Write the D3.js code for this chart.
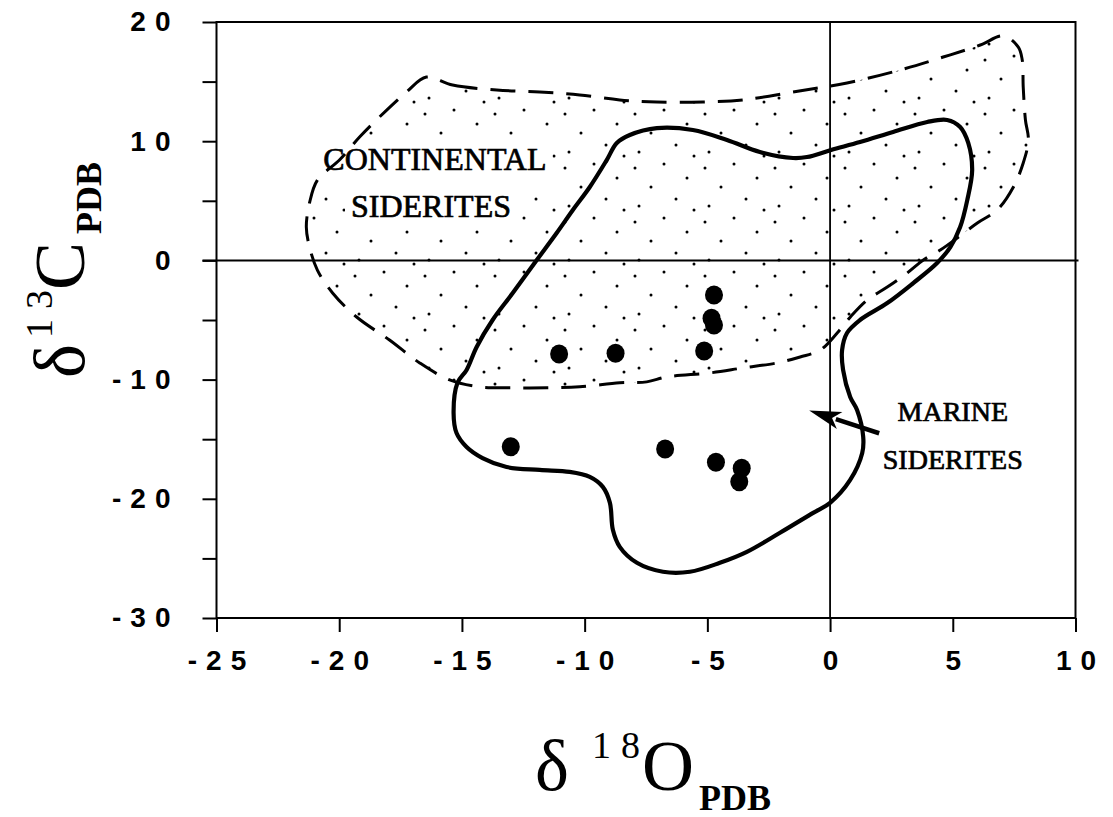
<!DOCTYPE html>
<html><head><meta charset="utf-8">
<script src="https://cdn.jsdelivr.net/npm/d3@7"></script>
<style>body{margin:0;background:#fff;} svg{display:block;}</style>
</head><body>
<svg id="chart" width="1113" height="817"></svg>
<script>
// ---------------- DATA ----------------
const xTicks = [-25, -20, -15, -10, -5, 0, 5, 10];
const xTickLabels = ["-25", "-20", "-15", "-10", "-5", "0", "5", "10"];
const yTicks = [-30, -25, -20, -15, -10, -5, 0, 5, 10, 15, 20];
const yTickLabels = ["-30", "", "-20", "", "-10", "", "0", "", "10", "", "20"];

// Continental siderites field (dashed outline), vertices in permil
const contD18O = [-16.45,-15.38,-13.58,-11.83,-10.20,-8.57,-7.06,-5.18,-3.55,-1.51,0.69,2.86,4.61,6.12,7.06,7.67,7.83,7.87,7.96,8.08,7.87,7.47,6.81,6.0,5.18,4.49,3.8,3.14,2.33,1.51,0.82,0.29,-0.4,-1.22,-2.16,-3.55,-4.9,-6.65,-7.47,-8.57,-10.2,-11.54,-12.93,-14.28,-15.5,-16.72,-17.95,-19.29,-20.27,-20.89,-21.21,-21.34,-21.21,-20.89,-19.99,-19.17,-18.36,-17.26];
const contD13C = [15.38,14.71,14.29,14.13,13.88,13.46,13.29,13.29,13.46,14.13,14.89,15.98,17.06,18.07,18.83,17.9,16.81,14.55,11.78,10.1,8.17,6.16,4.23,3.14,1.88,0.87,0.03,-1.06,-2.24,-3.33,-4.76,-6.09,-7.52,-8.1,-8.6,-9.02,-9.44,-9.77,-10.19,-10.27,-10.61,-10.69,-10.69,-10.61,-10.03,-8.6,-6.68,-4.75,-2.73,-0.81,1.12,2.80,4.82,6.74,8.42,10.35,12.03,14.12];

// Marine siderites field (solid outline)
const marD18O = [-7.06,-5.59,-4.2,-2.86,-1.51,-0.94,0.04,1.22,2.57,3.96,4.77,5.3,5.63,5.79,5.59,5.3,4.9,4.36,3.39,2.33,1.22,0.69,0.49,0.53,0.82,1.1,1.35,1.31,0.82,0.0,-0.69,-2.04,-3.39,-4.49,-5.71,-6.81,-7.87,-8.57,-8.85,-8.97,-9.26,-9.79,-10.61,-11.83,-13.18,-14.16,-14.81,-15.22,-15.34,-15.18,-14.81,-14.4,-13.75,-12.93,-11.95,-11.14,-10.48,-9.79,-9.1,-8.69,-8.16];
const marD13C = [11.1,10.94,10.1,9.09,8.59,8.67,9.26,9.93,10.77,11.61,11.78,11.19,9.85,7.58,5.06,2.80,1.12,-0.22,-1.9,-3.58,-5.0,-6.09,-7.52,-9.19,-11.46,-12.55,-14.8,-16.16,-18.42,-20.34,-21.18,-22.85,-24.45,-25.37,-26.12,-26.12,-25.37,-24.03,-22.6,-20.34,-19.0,-18.16,-17.74,-17.58,-17.33,-16.58,-15.65,-14.48,-12.8,-10.27,-9.19,-7.26,-5.0,-2.74,0.03,2.30,4.23,6.16,8.42,9.85,10.52];

// Sample siderites
const sampleD18O = [-11.04,-8.74,-5.13,-4.73,-4.83,-4.73,-13.01,-6.72,-4.65,-3.60,-3.70];
const sampleD13C = [-7.85,-7.79,-7.60,-2.90,-4.86,-5.42,-15.63,-15.82,-16.94,-17.44,-18.57];

// Field labels (text, anchor in permil)
const fieldLabels = ["CONTINENTAL", "SIDERITES", "MARINE", "SIDERITES"];
const fieldLabelD18O = [-16.10, -16.26, 5.0, 5.0];
const fieldLabelD13C = [7.58, 3.64, -13.5, -17.5];
// Arrow pointing at the marine field (tail -> tip, permil)
const arrowD18O = [2.0, -0.85];
const arrowD13C = [-14.5, -12.6];

// ---------------- DRAWING ----------------
const svg = d3.select("#chart");
const W = 1113, H = 817;
svg.append("rect").attr("width", W).attr("height", H).attr("fill", "#fff");

const x = d3.scaleLinear().domain([-25, 10]).range([216.5, 1075.5]);
const y = d3.scaleLinear().domain([-30, 20]).range([618, 22]);

const defs = svg.append("defs");
const pat = defs.append("pattern").attr("id", "stipple")
  .attr("patternUnits", "userSpaceOnUse").attr("width", 70).attr("height", 54);
[[5,6],[34,2],[57,16],[21,25],[46,37],[9,44],[64,48]].forEach(p => {
  pat.append("circle").attr("cx", p[0]).attr("cy", p[1]).attr("r", 1.5).attr("fill", "#000");
});

const line = d3.line().x(d => x(d[0])).y(d => y(d[1])).curve(d3.curveCatmullRomClosed.alpha(0.5));
const cont = d3.zip(contD18O, contD13C);
const mar = d3.zip(marD18O, marD13C);

// stipple fill of continental field
svg.append("path").attr("d", line(cont)).attr("fill", "url(#stipple)").attr("stroke", "none");

// labels group (continental label clears stipple)
const serif = "'Liberation Serif','Times New Roman',Times,serif";
const labSizes = ["32px", "32px", "28px", "28px"];
const labG = svg.append("g");
const labTexts = fieldLabels.map((t, i) => labG.append("text")
  .attr("x", x(fieldLabelD18O[i])).attr("y", y(fieldLabelD13C[i]))
  .attr("text-anchor", "middle")
  .style("font-family", serif).style("font-size", labSizes[i])
  .attr("fill", "#000").attr("stroke", "#000").attr("stroke-width", 0.7)
  .text(t));
// white backing behind continental label
[0, 1].forEach(i => {
  const b = labTexts[i].node().getBBox();
  labG.insert("rect", "text").attr("x", b.x - 6).attr("y", b.y - 4)
    .attr("width", b.width + 12).attr("height", b.height + 10).attr("fill", "#fff");
});

// dashed continental outline
svg.append("path").attr("d", line(cont)).attr("fill", "none")
  .attr("stroke", "#000").attr("stroke-width", 3)
  .attr("stroke-dasharray", "25,13").attr("stroke-linecap", "butt");

// zero lines
svg.append("line").attr("x1", x(-25) - 14).attr("x2", x(10) + 3)
  .attr("y1", y(0)).attr("y2", y(0)).attr("stroke", "#000").attr("stroke-width", 2);
svg.append("line").attr("x1", x(0)).attr("x2", x(0))
  .attr("y1", y(20)).attr("y2", y(-30)).attr("stroke", "#000").attr("stroke-width", 1.8);

// solid marine outline
svg.append("path").attr("d", line(mar)).attr("fill", "none")
  .attr("stroke", "#000").attr("stroke-width", 4.2).attr("stroke-linejoin", "round");

// sample points
svg.append("g").selectAll("ellipse").data(d3.zip(sampleD18O, sampleD13C)).join("ellipse")
  .attr("cx", d => x(d[0])).attr("cy", d => y(d[1])).attr("rx", 9).attr("ry", 9.5).attr("fill", "#000");

// arrow
(function () {
  const x1 = x(arrowD18O[0]), y1 = y(arrowD13C[0]), x2 = x(arrowD18O[1]), y2 = y(arrowD13C[1]);
  const a = Math.atan2(y2 - y1, x2 - x1);
  const L = 32, Wd = 9;
  const bx = x2 - L * Math.cos(a), by = y2 - L * Math.sin(a);
  svg.append("line").attr("x1", x1).attr("y1", y1).attr("x2", bx + 4 * Math.cos(a)).attr("y2", by + 4 * Math.sin(a))
    .attr("stroke", "#000").attr("stroke-width", 4.5);
  const pts = [[x2, y2],
    [bx + Wd * Math.sin(a), by - Wd * Math.cos(a)],
    [bx + 8 * Math.cos(a), by + 8 * Math.sin(a)],
    [bx - Wd * Math.sin(a), by + Wd * Math.cos(a)]];
  svg.append("polygon").attr("points", pts.map(p => p.join(",")).join(" ")).attr("fill", "#000");
})();

// frame
svg.append("rect").attr("x", x(-25)).attr("y", y(20)).attr("width", x(10) - x(-25)).attr("height", y(-30) - y(20))
  .attr("fill", "none").attr("stroke", "#000").attr("stroke-width", 2);

// axes
const sans = "'Liberation Sans',Arial,Helvetica,sans-serif";
const LS = 9;
const yAxis = d3.axisLeft(y).tickValues(yTicks).tickSize(14).tickPadding(23)
  .tickFormat((d, i) => yTickLabels[i]);
const gy = svg.append("g").attr("transform", `translate(${x(-25)},0)`).call(yAxis);
const xAxis = d3.axisBottom(x).tickValues(xTicks).tickSize(14).tickPadding(18)
  .tickFormat((d, i) => xTickLabels[i]);
const gx = svg.append("g").attr("transform", `translate(0,${y(-30)})`).call(xAxis);
[gx, gy].forEach(g => {
  g.select(".domain").remove();
  g.selectAll(".tick line").attr("stroke", "#000").attr("stroke-width", 2);
  g.selectAll(".tick text").attr("fill", "#000")
    .style("font-family", sans).style("font-size", "28px").style("font-weight", "bold")
    .style("letter-spacing", LS + "px");
});
gx.selectAll(".tick text").attr("dx", (LS / 2) + "px");

// axis titles
function title(g, sup, main, off, subDy) {
  const st = (t, s, w) => t.style("font-family", serif).style("font-size", s).style("font-weight", w || "normal").attr("fill", "#000");
  st(g.append("text").attr("x", 0).attr("y", 0).text("δ"), "72px");
  st(g.append("text").attr("x", off[0]).attr("y", -32).text(sup[0]), "38px");
  st(g.append("text").attr("x", off[1]).attr("y", -32).text(sup[1]), "38px");
  st(g.append("text").attr("x", off[2]).attr("y", 0).text(main), "72px");
  st(g.append("text").attr("x", off[3]).attr("y", subDy).text("PDB"), "36px", "bold");
}
title(svg.append("g").attr("transform", "translate(535,790)"), ["1", "8"], "O", [57, 86, 107, 164], 20);
title(svg.append("g").attr("transform", "translate(84,378) rotate(-90)"), ["1", "3"], "C", [40, 69, 88, 144], 17);
</script>
</body></html>
